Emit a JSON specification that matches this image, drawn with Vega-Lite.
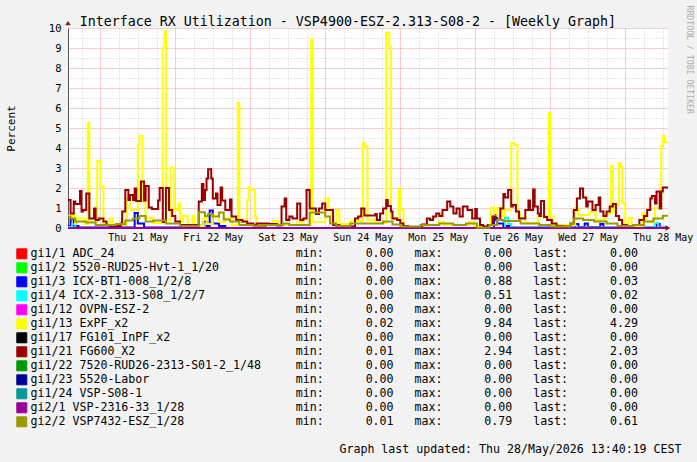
{
"$schema": "https://vega.github.io/schema/vega-lite/v6.json",
"width": 600,
"height": 200,
"autosize": {"type": "none"},
"padding": {"left": 68, "top": 28, "right": 29, "bottom": 234},
"background": "#f2f2f2",
"config": {"font": "DejaVu Sans Mono", "view": {"fill": "white", "stroke": null}},
"data": {"values": [
{"k":"gi1/1","t":"2026-05-20T13:40","v":0},{"k":"gi1/1","t":"2026-05-28T13:40","v":0},
{"k":"gi1/2","t":"2026-05-20T13:40","v":0},{"k":"gi1/2","t":"2026-05-28T13:40","v":0},
{"k":"gi1/3","t":"2026-05-20T13:40","v":0.1},
{"k":"gi1/3","t":"2026-05-20T14:30","v":0.45},
{"k":"gi1/3","t":"2026-05-20T15:30","v":0.1},
{"k":"gi1/3","t":"2026-05-20T17:00","v":0.03},
{"k":"gi1/3","t":"2026-05-21T11:00","v":0.75},
{"k":"gi1/3","t":"2026-05-21T12:00","v":0.23},
{"k":"gi1/3","t":"2026-05-21T14:00","v":0.03},
{"k":"gi1/3","t":"2026-05-22T09:00","v":0.32},
{"k":"gi1/3","t":"2026-05-22T10:00","v":0.1},
{"k":"gi1/3","t":"2026-05-22T11:00","v":0.88},
{"k":"gi1/3","t":"2026-05-22T12:00","v":0.23},
{"k":"gi1/3","t":"2026-05-22T14:00","v":0.1},
{"k":"gi1/3","t":"2026-05-22T16:00","v":0},
{"k":"gi1/3","t":"2026-05-26T06:00","v":0.65},
{"k":"gi1/3","t":"2026-05-26T07:00","v":0.23},
{"k":"gi1/3","t":"2026-05-26T09:00","v":0.1},
{"k":"gi1/3","t":"2026-05-26T11:00","v":0.02},
{"k":"gi1/3","t":"2026-05-27T08:00","v":0.2},
{"k":"gi1/3","t":"2026-05-27T09:00","v":0.05},
{"k":"gi1/3","t":"2026-05-27T11:00","v":0.23},
{"k":"gi1/3","t":"2026-05-27T12:00","v":0.05},
{"k":"gi1/3","t":"2026-05-27T16:00","v":0.2},
{"k":"gi1/3","t":"2026-05-27T17:00","v":0.03},
{"k":"gi1/3","t":"2026-05-28T10:00","v":0.2},
{"k":"gi1/3","t":"2026-05-28T11:00","v":0.03},
{"k":"gi1/3","t":"2026-05-28T13:40","v":0.03},
{"k":"gi1/4","t":"2026-05-20T13:40","v":0.05},
{"k":"gi1/4","t":"2026-05-20T15:00","v":0.2},
{"k":"gi1/4","t":"2026-05-20T16:00","v":0},
{"k":"gi1/4","t":"2026-05-22T07:00","v":0.15},
{"k":"gi1/4","t":"2026-05-22T08:00","v":0},
{"k":"gi1/4","t":"2026-05-26T09:30","v":0.51},
{"k":"gi1/4","t":"2026-05-26T10:30","v":0.2},
{"k":"gi1/4","t":"2026-05-26T11:30","v":0.02},
{"k":"gi1/4","t":"2026-05-28T09:30","v":0.25},
{"k":"gi1/4","t":"2026-05-28T10:30","v":0.02},
{"k":"gi1/4","t":"2026-05-28T13:40","v":0.02},
{"k":"gi1/12","t":"2026-05-20T13:40","v":0},{"k":"gi1/12","t":"2026-05-28T13:40","v":0},
{"k":"gi1/13","t":"2026-05-20T13:40","v":0.6},
{"k":"gi1/13","t":"2026-05-20T15:30","v":0.7},
{"k":"gi1/13","t":"2026-05-20T16:00","v":0.23},
{"k":"gi1/13","t":"2026-05-20T16:30","v":0.48},
{"k":"gi1/13","t":"2026-05-20T19:00","v":0.2},
{"k":"gi1/13","t":"2026-05-20T20:00","v":5.25},
{"k":"gi1/13","t":"2026-05-20T20:30","v":0.3},
{"k":"gi1/13","t":"2026-05-20T23:00","v":3.35},
{"k":"gi1/13","t":"2026-05-21T00:00","v":2.07},
{"k":"gi1/13","t":"2026-05-21T01:00","v":0.23},
{"k":"gi1/13","t":"2026-05-21T03:00","v":0.48},
{"k":"gi1/13","t":"2026-05-21T04:00","v":0.15},
{"k":"gi1/13","t":"2026-05-21T08:30","v":1.48},
{"k":"gi1/13","t":"2026-05-21T09:30","v":0.9},
{"k":"gi1/13","t":"2026-05-21T12:00","v":4.15},
{"k":"gi1/13","t":"2026-05-21T12:30","v":4.6},
{"k":"gi1/13","t":"2026-05-21T13:30","v":1.3},
{"k":"gi1/13","t":"2026-05-21T14:30","v":0.5},
{"k":"gi1/13","t":"2026-05-21T17:00","v":0.25},
{"k":"gi1/13","t":"2026-05-21T20:00","v":9.0},
{"k":"gi1/13","t":"2026-05-21T20:30","v":9.84},
{"k":"gi1/13","t":"2026-05-21T21:00","v":0.4},
{"k":"gi1/13","t":"2026-05-21T22:30","v":3.03},
{"k":"gi1/13","t":"2026-05-21T23:30","v":0.9},
{"k":"gi1/13","t":"2026-05-22T01:00","v":1.22},
{"k":"gi1/13","t":"2026-05-22T01:30","v":0.3},
{"k":"gi1/13","t":"2026-05-22T02:30","v":0.6},
{"k":"gi1/13","t":"2026-05-22T04:00","v":0.15},
{"k":"gi1/13","t":"2026-05-22T05:30","v":0.6},
{"k":"gi1/13","t":"2026-05-22T06:00","v":0.1},
{"k":"gi1/13","t":"2026-05-22T09:00","v":0.5},
{"k":"gi1/13","t":"2026-05-22T10:00","v":0.2},
{"k":"gi1/13","t":"2026-05-22T12:00","v":0.6},
{"k":"gi1/13","t":"2026-05-22T14:00","v":0.3},
{"k":"gi1/13","t":"2026-05-22T16:00","v":0.5},
{"k":"gi1/13","t":"2026-05-22T18:00","v":0.15},
{"k":"gi1/13","t":"2026-05-22T20:00","v":6.25},
{"k":"gi1/13","t":"2026-05-22T20:30","v":0.3},
{"k":"gi1/13","t":"2026-05-22T23:00","v":1.4},
{"k":"gi1/13","t":"2026-05-22T23:30","v":2.03},
{"k":"gi1/13","t":"2026-05-23T00:00","v":1.9},
{"k":"gi1/13","t":"2026-05-23T01:30","v":0.57},
{"k":"gi1/13","t":"2026-05-23T02:00","v":0.2},
{"k":"gi1/13","t":"2026-05-23T07:00","v":0.35},
{"k":"gi1/13","t":"2026-05-23T09:00","v":0.15},
{"k":"gi1/13","t":"2026-05-23T15:00","v":0.3},
{"k":"gi1/13","t":"2026-05-23T17:00","v":0.15},
{"k":"gi1/13","t":"2026-05-23T19:30","v":9.43},
{"k":"gi1/13","t":"2026-05-23T20:00","v":0.3},
{"k":"gi1/13","t":"2026-05-24T00:00","v":1.48},
{"k":"gi1/13","t":"2026-05-24T01:00","v":0.9},
{"k":"gi1/13","t":"2026-05-24T02:00","v":0.25},
{"k":"gi1/13","t":"2026-05-24T03:30","v":0.9},
{"k":"gi1/13","t":"2026-05-24T04:30","v":0.2},
{"k":"gi1/13","t":"2026-05-24T08:00","v":0.35},
{"k":"gi1/13","t":"2026-05-24T12:00","v":4.25},
{"k":"gi1/13","t":"2026-05-24T12:30","v":4.07},
{"k":"gi1/13","t":"2026-05-24T13:30","v":0.4},
{"k":"gi1/13","t":"2026-05-24T16:00","v":0.25},
{"k":"gi1/13","t":"2026-05-24T19:30","v":9.78},
{"k":"gi1/13","t":"2026-05-24T20:30","v":9.07},
{"k":"gi1/13","t":"2026-05-24T21:00","v":0.5},
{"k":"gi1/13","t":"2026-05-24T23:30","v":1.95},
{"k":"gi1/13","t":"2026-05-25T00:00","v":0.9},
{"k":"gi1/13","t":"2026-05-25T01:00","v":0.05},
{"k":"gi1/13","t":"2026-05-25T04:00","v":0.02},
{"k":"gi1/13","t":"2026-05-25T08:00","v":0.15},
{"k":"gi1/13","t":"2026-05-25T12:00","v":0.3},
{"k":"gi1/13","t":"2026-05-25T14:00","v":0.15},
{"k":"gi1/13","t":"2026-05-25T22:00","v":0.3},
{"k":"gi1/13","t":"2026-05-25T23:30","v":0.1},
{"k":"gi1/13","t":"2026-05-26T05:00","v":1.0},
{"k":"gi1/13","t":"2026-05-26T06:00","v":0.6},
{"k":"gi1/13","t":"2026-05-26T07:00","v":1.0},
{"k":"gi1/13","t":"2026-05-26T08:30","v":0.6},
{"k":"gi1/13","t":"2026-05-26T09:30","v":0.9},
{"k":"gi1/13","t":"2026-05-26T11:30","v":4.25},
{"k":"gi1/13","t":"2026-05-26T12:30","v":4.15},
{"k":"gi1/13","t":"2026-05-26T13:30","v":0.73},
{"k":"gi1/13","t":"2026-05-26T14:30","v":0.5},
{"k":"gi1/13","t":"2026-05-26T16:00","v":0.25},
{"k":"gi1/13","t":"2026-05-26T20:00","v":0.6},
{"k":"gi1/13","t":"2026-05-26T23:30","v":5.75},
{"k":"gi1/13","t":"2026-05-27T00:00","v":0.57},
{"k":"gi1/13","t":"2026-05-27T01:00","v":0.15},
{"k":"gi1/13","t":"2026-05-27T08:00","v":1.0},
{"k":"gi1/13","t":"2026-05-27T09:00","v":0.65},
{"k":"gi1/13","t":"2026-05-27T12:30","v":0.8},
{"k":"gi1/13","t":"2026-05-27T14:30","v":0.4},
{"k":"gi1/13","t":"2026-05-27T17:30","v":0.73},
{"k":"gi1/13","t":"2026-05-27T19:30","v":3.1},
{"k":"gi1/13","t":"2026-05-27T20:00","v":0.8},
{"k":"gi1/13","t":"2026-05-27T20:30","v":1.15},
{"k":"gi1/13","t":"2026-05-27T22:00","v":3.25},
{"k":"gi1/13","t":"2026-05-27T22:30","v":3.05},
{"k":"gi1/13","t":"2026-05-27T23:00","v":1.25},
{"k":"gi1/13","t":"2026-05-28T00:00","v":0.2},
{"k":"gi1/13","t":"2026-05-28T01:00","v":0.5},
{"k":"gi1/13","t":"2026-05-28T02:00","v":0.1},
{"k":"gi1/13","t":"2026-05-28T05:30","v":0.73},
{"k":"gi1/13","t":"2026-05-28T06:30","v":0.3},
{"k":"gi1/13","t":"2026-05-28T09:30","v":1.0},
{"k":"gi1/13","t":"2026-05-28T11:30","v":4.07},
{"k":"gi1/13","t":"2026-05-28T12:00","v":4.6},
{"k":"gi1/13","t":"2026-05-28T12:30","v":4.29},
{"k":"gi1/13","t":"2026-05-28T13:40","v":4.29},
{"k":"gi1/17","t":"2026-05-20T13:40","v":0},{"k":"gi1/17","t":"2026-05-28T13:40","v":0},
{"k":"gi1/21","t":"2026-05-20T13:40","v":1.4},
{"k":"gi1/21","t":"2026-05-20T14:30","v":0.73},
{"k":"gi1/21","t":"2026-05-20T15:30","v":1.32},
{"k":"gi1/21","t":"2026-05-20T16:00","v":1.2},
{"k":"gi1/21","t":"2026-05-20T17:30","v":1.85},
{"k":"gi1/21","t":"2026-05-20T18:00","v":0.82},
{"k":"gi1/21","t":"2026-05-20T18:30","v":0.9},
{"k":"gi1/21","t":"2026-05-20T19:30","v":1.73},
{"k":"gi1/21","t":"2026-05-20T20:30","v":0.48},
{"k":"gi1/21","t":"2026-05-20T22:00","v":0.97},
{"k":"gi1/21","t":"2026-05-20T22:30","v":0.4},
{"k":"gi1/21","t":"2026-05-20T23:30","v":0.47},
{"k":"gi1/21","t":"2026-05-21T01:00","v":0.32},
{"k":"gi1/21","t":"2026-05-21T02:00","v":0.15},
{"k":"gi1/21","t":"2026-05-21T03:00","v":0.1},
{"k":"gi1/21","t":"2026-05-21T06:30","v":0.23},
{"k":"gi1/21","t":"2026-05-21T07:00","v":0.82},
{"k":"gi1/21","t":"2026-05-21T08:00","v":1.9},
{"k":"gi1/21","t":"2026-05-21T09:00","v":1.4},
{"k":"gi1/21","t":"2026-05-21T09:30","v":1.65},
{"k":"gi1/21","t":"2026-05-21T10:30","v":1.4},
{"k":"gi1/21","t":"2026-05-21T11:00","v":1.98},
{"k":"gi1/21","t":"2026-05-21T11:30","v":1.35},
{"k":"gi1/21","t":"2026-05-21T13:00","v":2.32},
{"k":"gi1/21","t":"2026-05-21T14:00","v":1.37},
{"k":"gi1/21","t":"2026-05-21T14:30","v":2.1},
{"k":"gi1/21","t":"2026-05-21T15:30","v":1.03},
{"k":"gi1/21","t":"2026-05-21T16:30","v":0.95},
{"k":"gi1/21","t":"2026-05-21T18:30","v":1.37},
{"k":"gi1/21","t":"2026-05-21T19:00","v":2.0},
{"k":"gi1/21","t":"2026-05-21T20:00","v":0.3},
{"k":"gi1/21","t":"2026-05-21T21:00","v":2.0},
{"k":"gi1/21","t":"2026-05-21T22:00","v":0.9},
{"k":"gi1/21","t":"2026-05-21T23:00","v":0.6},
{"k":"gi1/21","t":"2026-05-22T00:00","v":0.32},
{"k":"gi1/21","t":"2026-05-22T01:30","v":0.15},
{"k":"gi1/21","t":"2026-05-22T07:30","v":1.32},
{"k":"gi1/21","t":"2026-05-22T08:30","v":2.2},
{"k":"gi1/21","t":"2026-05-22T09:00","v":1.4},
{"k":"gi1/21","t":"2026-05-22T09:30","v":1.9},
{"k":"gi1/21","t":"2026-05-22T10:00","v":2.48},
{"k":"gi1/21","t":"2026-05-22T10:30","v":2.94},
{"k":"gi1/21","t":"2026-05-22T11:30","v":2.48},
{"k":"gi1/21","t":"2026-05-22T12:00","v":1.48},
{"k":"gi1/21","t":"2026-05-22T13:00","v":1.73},
{"k":"gi1/21","t":"2026-05-22T13:30","v":1.15},
{"k":"gi1/21","t":"2026-05-22T14:30","v":2.03},
{"k":"gi1/21","t":"2026-05-22T15:00","v":1.37},
{"k":"gi1/21","t":"2026-05-22T16:00","v":0.9},
{"k":"gi1/21","t":"2026-05-22T17:30","v":1.43},
{"k":"gi1/21","t":"2026-05-22T18:00","v":0.57},
{"k":"gi1/21","t":"2026-05-22T19:30","v":0.4},
{"k":"gi1/21","t":"2026-05-22T21:30","v":0.32},
{"k":"gi1/21","t":"2026-05-22T23:00","v":0.23},
{"k":"gi1/21","t":"2026-05-23T01:00","v":0.15},
{"k":"gi1/21","t":"2026-05-23T02:00","v":0.23},
{"k":"gi1/21","t":"2026-05-23T06:00","v":0.2},
{"k":"gi1/21","t":"2026-05-23T08:30","v":0.12},
{"k":"gi1/21","t":"2026-05-23T10:00","v":1.07},
{"k":"gi1/21","t":"2026-05-23T11:00","v":1.48},
{"k":"gi1/21","t":"2026-05-23T11:30","v":0.4},
{"k":"gi1/21","t":"2026-05-23T12:30","v":0.57},
{"k":"gi1/21","t":"2026-05-23T13:30","v":0.48},
{"k":"gi1/21","t":"2026-05-23T15:00","v":1.23},
{"k":"gi1/21","t":"2026-05-23T16:00","v":0.4},
{"k":"gi1/21","t":"2026-05-23T17:00","v":0.48},
{"k":"gi1/21","t":"2026-05-23T18:00","v":1.9},
{"k":"gi1/21","t":"2026-05-23T19:00","v":0.98},
{"k":"gi1/21","t":"2026-05-23T21:00","v":0.7},
{"k":"gi1/21","t":"2026-05-23T22:00","v":0.98},
{"k":"gi1/21","t":"2026-05-23T23:00","v":1.23},
{"k":"gi1/21","t":"2026-05-24T00:00","v":0.9},
{"k":"gi1/21","t":"2026-05-24T02:30","v":0.15},
{"k":"gi1/21","t":"2026-05-24T04:30","v":0.07},
{"k":"gi1/21","t":"2026-05-24T09:30","v":0.48},
{"k":"gi1/21","t":"2026-05-24T10:30","v":0.57},
{"k":"gi1/21","t":"2026-05-24T11:30","v":0.98},
{"k":"gi1/21","t":"2026-05-24T12:30","v":0.63},
{"k":"gi1/21","t":"2026-05-24T16:00","v":0.7},
{"k":"gi1/21","t":"2026-05-24T16:30","v":0.4},
{"k":"gi1/21","t":"2026-05-24T17:30","v":0.73},
{"k":"gi1/21","t":"2026-05-24T18:30","v":0.98},
{"k":"gi1/21","t":"2026-05-24T19:30","v":1.4},
{"k":"gi1/21","t":"2026-05-24T20:00","v":1.1},
{"k":"gi1/21","t":"2026-05-24T21:00","v":0.82},
{"k":"gi1/21","t":"2026-05-24T21:30","v":0.48},
{"k":"gi1/21","t":"2026-05-24T23:00","v":0.4},
{"k":"gi1/21","t":"2026-05-25T00:00","v":0.23},
{"k":"gi1/21","t":"2026-05-25T01:00","v":0.1},
{"k":"gi1/21","t":"2026-05-25T02:30","v":0.01},
{"k":"gi1/21","t":"2026-05-25T07:00","v":0.18},
{"k":"gi1/21","t":"2026-05-25T08:30","v":0.48},
{"k":"gi1/21","t":"2026-05-25T09:30","v":0.4},
{"k":"gi1/21","t":"2026-05-25T10:30","v":0.57},
{"k":"gi1/21","t":"2026-05-25T11:30","v":0.73},
{"k":"gi1/21","t":"2026-05-25T12:30","v":0.6},
{"k":"gi1/21","t":"2026-05-25T13:30","v":0.9},
{"k":"gi1/21","t":"2026-05-25T15:00","v":1.32},
{"k":"gi1/21","t":"2026-05-25T16:00","v":1.07},
{"k":"gi1/21","t":"2026-05-25T17:00","v":0.73},
{"k":"gi1/21","t":"2026-05-25T18:00","v":0.98},
{"k":"gi1/21","t":"2026-05-25T19:00","v":0.57},
{"k":"gi1/21","t":"2026-05-25T20:00","v":1.07},
{"k":"gi1/21","t":"2026-05-25T21:30","v":0.9},
{"k":"gi1/21","t":"2026-05-25T23:00","v":0.48},
{"k":"gi1/21","t":"2026-05-26T00:00","v":0.95},
{"k":"gi1/21","t":"2026-05-26T00:30","v":0.48},
{"k":"gi1/21","t":"2026-05-26T01:30","v":0.15},
{"k":"gi1/21","t":"2026-05-26T02:30","v":0.07},
{"k":"gi1/21","t":"2026-05-26T04:00","v":0.15},
{"k":"gi1/21","t":"2026-05-26T05:30","v":0.57},
{"k":"gi1/21","t":"2026-05-26T06:30","v":0.4},
{"k":"gi1/21","t":"2026-05-26T08:00","v":0.98},
{"k":"gi1/21","t":"2026-05-26T09:00","v":1.7},
{"k":"gi1/21","t":"2026-05-26T09:30","v":1.53},
{"k":"gi1/21","t":"2026-05-26T10:30","v":1.9},
{"k":"gi1/21","t":"2026-05-26T11:30","v":1.07},
{"k":"gi1/21","t":"2026-05-26T12:00","v":1.15},
{"k":"gi1/21","t":"2026-05-26T13:00","v":0.82},
{"k":"gi1/21","t":"2026-05-26T14:00","v":0.48},
{"k":"gi1/21","t":"2026-05-26T16:00","v":0.9},
{"k":"gi1/21","t":"2026-05-26T17:00","v":1.37},
{"k":"gi1/21","t":"2026-05-26T17:30","v":0.9},
{"k":"gi1/21","t":"2026-05-26T18:30","v":1.93},
{"k":"gi1/21","t":"2026-05-26T19:00","v":1.07},
{"k":"gi1/21","t":"2026-05-26T20:00","v":0.73},
{"k":"gi1/21","t":"2026-05-26T20:30","v":0.6},
{"k":"gi1/21","t":"2026-05-26T21:00","v":1.35},
{"k":"gi1/21","t":"2026-05-26T22:00","v":0.55},
{"k":"gi1/21","t":"2026-05-26T23:00","v":0.4},
{"k":"gi1/21","t":"2026-05-27T00:30","v":0.23},
{"k":"gi1/21","t":"2026-05-27T02:00","v":0.1},
{"k":"gi1/21","t":"2026-05-27T04:00","v":0.07},
{"k":"gi1/21","t":"2026-05-27T06:30","v":0.23},
{"k":"gi1/21","t":"2026-05-27T07:30","v":0.9},
{"k":"gi1/21","t":"2026-05-27T08:30","v":1.48},
{"k":"gi1/21","t":"2026-05-27T09:30","v":1.98},
{"k":"gi1/21","t":"2026-05-27T10:30","v":1.53},
{"k":"gi1/21","t":"2026-05-27T11:30","v":1.07},
{"k":"gi1/21","t":"2026-05-27T12:00","v":1.32},
{"k":"gi1/21","t":"2026-05-27T13:30","v":0.9},
{"k":"gi1/21","t":"2026-05-27T14:30","v":1.15},
{"k":"gi1/21","t":"2026-05-27T15:30","v":1.53},
{"k":"gi1/21","t":"2026-05-27T16:00","v":0.82},
{"k":"gi1/21","t":"2026-05-27T17:00","v":0.6},
{"k":"gi1/21","t":"2026-05-27T18:00","v":0.82},
{"k":"gi1/21","t":"2026-05-27T19:00","v":1.07},
{"k":"gi1/21","t":"2026-05-27T20:00","v":1.2},
{"k":"gi1/21","t":"2026-05-27T21:00","v":0.6},
{"k":"gi1/21","t":"2026-05-27T22:00","v":0.4},
{"k":"gi1/21","t":"2026-05-27T23:00","v":0.15},
{"k":"gi1/21","t":"2026-05-28T00:30","v":0.07},
{"k":"gi1/21","t":"2026-05-28T02:30","v":0.15},
{"k":"gi1/21","t":"2026-05-28T04:30","v":0.4},
{"k":"gi1/21","t":"2026-05-28T06:00","v":0.6},
{"k":"gi1/21","t":"2026-05-28T07:00","v":0.9},
{"k":"gi1/21","t":"2026-05-28T08:00","v":1.48},
{"k":"gi1/21","t":"2026-05-28T08:30","v":1.6},
{"k":"gi1/21","t":"2026-05-28T09:30","v":1.23},
{"k":"gi1/21","t":"2026-05-28T10:00","v":1.82},
{"k":"gi1/21","t":"2026-05-28T11:00","v":0.98},
{"k":"gi1/21","t":"2026-05-28T11:30","v":1.82},
{"k":"gi1/21","t":"2026-05-28T12:00","v":2.03},
{"k":"gi1/21","t":"2026-05-28T13:40","v":2.03},
{"k":"gi1/22","t":"2026-05-20T13:40","v":0},{"k":"gi1/22","t":"2026-05-28T13:40","v":0},
{"k":"gi1/23","t":"2026-05-20T13:40","v":0},{"k":"gi1/23","t":"2026-05-28T13:40","v":0},
{"k":"gi1/24","t":"2026-05-20T13:40","v":0},{"k":"gi1/24","t":"2026-05-28T13:40","v":0},
{"k":"gi2/1","t":"2026-05-20T13:40","v":0},{"k":"gi2/1","t":"2026-05-28T13:40","v":0},
{"k":"gi2/2","t":"2026-05-20T13:40","v":0.57},
{"k":"gi2/2","t":"2026-05-20T14:30","v":0.48},
{"k":"gi2/2","t":"2026-05-20T16:00","v":0.32},
{"k":"gi2/2","t":"2026-05-20T19:30","v":0.27},
{"k":"gi2/2","t":"2026-05-20T22:30","v":0.15},
{"k":"gi2/2","t":"2026-05-21T05:00","v":0.2},
{"k":"gi2/2","t":"2026-05-21T08:00","v":0.37},
{"k":"gi2/2","t":"2026-05-21T10:30","v":0.48},
{"k":"gi2/2","t":"2026-05-21T12:30","v":0.6},
{"k":"gi2/2","t":"2026-05-21T14:30","v":0.32},
{"k":"gi2/2","t":"2026-05-21T17:00","v":0.37},
{"k":"gi2/2","t":"2026-05-21T21:00","v":0.23},
{"k":"gi2/2","t":"2026-05-22T01:30","v":0.1},
{"k":"gi2/2","t":"2026-05-22T07:30","v":0.79},
{"k":"gi2/2","t":"2026-05-22T09:30","v":0.6},
{"k":"gi2/2","t":"2026-05-22T10:30","v":0.7},
{"k":"gi2/2","t":"2026-05-22T12:00","v":0.57},
{"k":"gi2/2","t":"2026-05-22T14:00","v":0.77},
{"k":"gi2/2","t":"2026-05-22T15:30","v":0.43},
{"k":"gi2/2","t":"2026-05-22T17:30","v":0.32},
{"k":"gi2/2","t":"2026-05-22T20:30","v":0.15},
{"k":"gi2/2","t":"2026-05-23T01:00","v":0.1},
{"k":"gi2/2","t":"2026-05-23T05:00","v":0.15},
{"k":"gi2/2","t":"2026-05-23T10:30","v":0.23},
{"k":"gi2/2","t":"2026-05-23T12:30","v":0.15},
{"k":"gi2/2","t":"2026-05-23T19:00","v":0.78},
{"k":"gi2/2","t":"2026-05-24T00:00","v":0.57},
{"k":"gi2/2","t":"2026-05-24T01:30","v":0.23},
{"k":"gi2/2","t":"2026-05-24T03:30","v":0.1},
{"k":"gi2/2","t":"2026-05-24T08:00","v":0.23},
{"k":"gi2/2","t":"2026-05-24T18:30","v":0.32},
{"k":"gi2/2","t":"2026-05-24T21:30","v":0.18},
{"k":"gi2/2","t":"2026-05-25T00:00","v":0.07},
{"k":"gi2/2","t":"2026-05-25T06:30","v":0.15},
{"k":"gi2/2","t":"2026-05-25T12:30","v":0.23},
{"k":"gi2/2","t":"2026-05-25T17:00","v":0.15},
{"k":"gi2/2","t":"2026-05-25T21:00","v":0.23},
{"k":"gi2/2","t":"2026-05-26T00:30","v":0.01},
{"k":"gi2/2","t":"2026-05-26T04:30","v":0.15},
{"k":"gi2/2","t":"2026-05-26T07:00","v":0.4},
{"k":"gi2/2","t":"2026-05-26T09:00","v":0.35},
{"k":"gi2/2","t":"2026-05-26T14:30","v":0.23},
{"k":"gi2/2","t":"2026-05-26T20:30","v":0.15},
{"k":"gi2/2","t":"2026-05-27T00:00","v":0.07},
{"k":"gi2/2","t":"2026-05-27T06:30","v":0.23},
{"k":"gi2/2","t":"2026-05-27T07:30","v":0.48},
{"k":"gi2/2","t":"2026-05-27T10:30","v":0.4},
{"k":"gi2/2","t":"2026-05-27T14:00","v":0.32},
{"k":"gi2/2","t":"2026-05-27T18:00","v":0.23},
{"k":"gi2/2","t":"2026-05-27T21:30","v":0.1},
{"k":"gi2/2","t":"2026-05-28T02:30","v":0.15},
{"k":"gi2/2","t":"2026-05-28T06:00","v":0.32},
{"k":"gi2/2","t":"2026-05-28T09:00","v":0.48},
{"k":"gi2/2","t":"2026-05-28T12:00","v":0.61},
{"k":"gi2/2","t":"2026-05-28T13:40","v":0.61}
]},
"transform": [
{"lookup": "k", "from": {"data": {"values": [
{"k":"gi1/1","name":"gi1/1 ADC_24","min":0,"max":0,"last":0,"o":1},
{"k":"gi1/2","name":"gi1/2 5520-RUD25-Hvt-1_1/20","min":0,"max":0,"last":0,"o":2},
{"k":"gi1/3","name":"gi1/3 ICX-BT1-008_1/2/8","min":0,"max":0.88,"last":0.03,"o":3},
{"k":"gi1/4","name":"gi1/4 ICX-2.313-S08_1/2/7","min":0,"max":0.51,"last":0.02,"o":4},
{"k":"gi1/12","name":"gi1/12 OVPN-ESZ-2","min":0,"max":0,"last":0,"o":5},
{"k":"gi1/13","name":"gi1/13 ExPF_x2","min":0.02,"max":9.84,"last":4.29,"o":6},
{"k":"gi1/17","name":"gi1/17 FG101_InPF_x2","min":0,"max":0,"last":0,"o":7},
{"k":"gi1/21","name":"gi1/21 FG600_X2","min":0.01,"max":2.94,"last":2.03,"o":8},
{"k":"gi1/22","name":"gi1/22 7520-RUD26-2313-S01-2_1/48","min":0,"max":0,"last":0,"o":9},
{"k":"gi1/23","name":"gi1/23 5520-Labor","min":0,"max":0,"last":0,"o":10},
{"k":"gi1/24","name":"gi1/24 VSP-S08-1","min":0,"max":0,"last":0,"o":11},
{"k":"gi2/1","name":"gi2/1 VSP-2316-33_1/28","min":0,"max":0,"last":0,"o":12},
{"k":"gi2/2","name":"gi2/2 VSP7432-ESZ_1/28","min":0.01,"max":0.79,"last":0.61,"o":13}
]}, "key": "k", "fields": ["name", "min", "max", "last", "o"]}},
{"calculate": "pad(datum.name, 38, '\u00a0') + 'min:' + pad(format(datum.min, '.2f'), 10, '\u00a0', 'left') + '\u00a0\u00a0\u00a0max:' + pad(format(datum.max, '.2f'), 10, '\u00a0', 'left') + '\u00a0\u00a0\u00a0last:' + pad(format(datum.last, '.2f'), 10, '\u00a0', 'left')", "as": "label"}
],
"layer": [
{
"mark": {"type": "line", "interpolate": "step-after", "strokeWidth": 2},
"encoding": {
"x": {"field": "t", "type": "temporal",
"axis": {"orient": "bottom", "tickCount": 32,
"labelExpr": "hours(datum.value) === 12 ? timeFormat(datum.value, '%a %d %b') : ''",
"labelFontSize": 10, "labelColor": "#000", "labelPadding": 4, "labelOverlap": false, "labelFlush": false,
"ticks": false, "domainColor": "#555",
"grid": true, "gridOpacity": 1,
"gridColor": {"condition": {"test": "hours(datum.value) === 0", "value": "#f09a9a"}, "value": "#cccccc"},
"gridDash": {"condition": {"test": "hours(datum.value) === 0", "value": [1, 1]}, "value": [1, 2]},
"title": "Graph last updated: Thu 28/May/2026 13:40:19 CEST",
"titleX": 613, "titleY": 224, "titleAlign": "right", "titleBaseline": "alphabetic",
"titleFontSize": 11.6, "titleFontWeight": "normal", "titleColor": "#000"}},
"y": {"field": "v", "type": "quantitative",
"scale": {"domain": [0, 10], "nice": false},
"axis": {"orient": "left", "values": [0, 0.5, 1, 1.5, 2, 2.5, 3, 3.5, 4, 4.5, 5, 5.5, 6, 6.5, 7, 7.5, 8, 8.5, 9, 9.5, 10],
"format": ".0f",
"labelExpr": "datum.value % 1 === 0 ? datum.label : ''",
"labelFontSize": 10.5, "labelColor": "#000", "labelPadding": 7, "labelOverlap": false,
"ticks": false, "domainColor": "#555",
"grid": true, "gridOpacity": 1,
"gridColor": {"condition": {"test": "datum.value % 1 === 0", "value": "#f09a9a"}, "value": "#cccccc"},
"gridDash": {"condition": {"test": "datum.value % 1 === 0", "value": [1, 1]}, "value": [1, 2]},
"title": "Percent", "titleX": -57, "titleY": 100, "titleAngle": 270, "titleAlign": "center", "titleBaseline": "middle",
"titleFontSize": 11, "titleFontWeight": "normal", "titleColor": "#000"}},
"color": {"field": "label", "type": "nominal", "sort": {"field": "o", "op": "min"},
"scale": {"range": ["#ff0000", "#00ff00", "#0000ff", "#00ffff", "#ff00ff", "#ffff00", "#000000", "#990000", "#009900", "#000099", "#009999", "#990099", "#999900"]},
"legend": {"orient": "none", "legendX": -52, "legendY": 220, "title": null, "direction": "vertical",
"symbolType": "square", "symbolSize": 100, "symbolStrokeWidth": 1, "symbolStrokeColor": "#000",
"labelFontSize": 11.6, "labelColor": "#000", "labelLimit": 1000, "labelOffset": 3,
"rowPadding": -1.0, "padding": 0,
"encode": {"symbols": {"update": {"fill": {"scale": "color", "field": "value"}, "stroke": {"value": "#000"}, "opacity": {"value": 1}}}}}}
}
},
{
"mark": {"type": "point", "opacity": 0},
"encoding": {
"x": {"field": "t", "type": "temporal",
"axis": {"orient": "top", "labels": false, "ticks": false, "domain": false, "grid": false,
"title": "Interface RX Utilization - VSP4900-ESZ-2.313-S08-2 - [Weekly Graph]",
"titleX": 279.4, "titleY": -3, "titleAlign": "center", "titleBaseline": "alphabetic",
"titleFontSize": 13.3, "titleFontWeight": "normal", "titleColor": "#000"}},
"y": {"field": "v", "type": "quantitative",
"axis": {"orient": "right", "labels": false, "ticks": false, "domain": false, "grid": false,
"title": "RRDTOOL / TOBI OETIKER", "titleX": 20.5, "titleY": -23, "titleAngle": 90, "titleAlign": "left", "titleBaseline": "middle",
"titleFontSize": 8.2, "titleFontWeight": "normal", "titleColor": "#aaaaaa"}}
}
},
{
"mark": {"type": "point", "shape": "triangle-up", "filled": true, "size": 30, "color": "#8c1c1c", "opacity": 1},
"encoding": {
"x": {"aggregate": "min", "field": "t", "type": "temporal", "axis": null},
"y": {"datum": 10.25, "type": "quantitative", "scale": {"domain": [0, 10], "nice": false}, "axis": null}
}
},
{
"mark": {"type": "point", "shape": "triangle-right", "filled": true, "size": 30, "color": "#8c1c1c", "opacity": 1},
"encoding": {
"x": {"aggregate": "max", "field": "t", "type": "temporal", "axis": null},
"y": {"datum": 0, "type": "quantitative", "scale": {"domain": [0, 10], "nice": false}, "axis": null}
}
}
],
"resolve": {"axis": {"x": "independent", "y": "independent"}}
}
